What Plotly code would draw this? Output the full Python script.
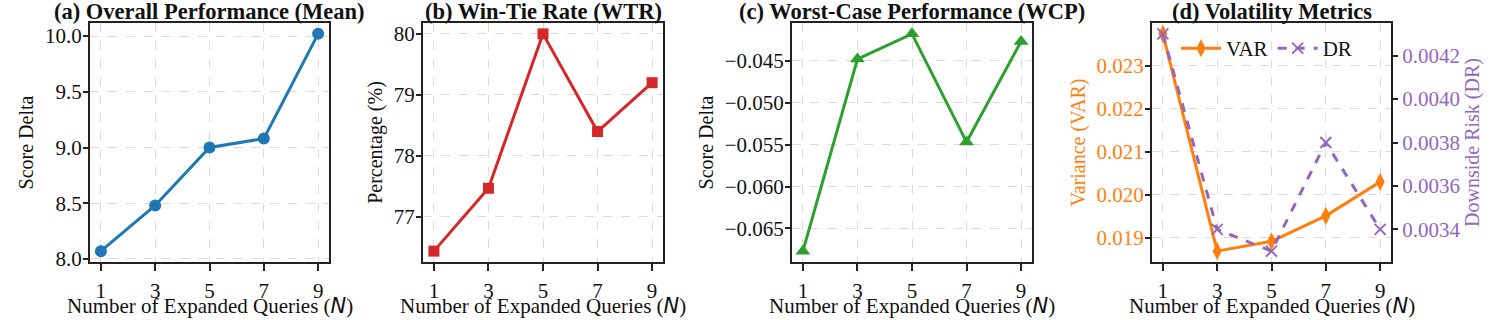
"""Expanded queries ablation: four panels (mean, WTR, WCP, volatility)."""

import plotly.graph_objects as go

# --- data -------------------------------------------------------------------
n_queries = [1, 3, 5, 7, 9]
mean_delta = [8.07, 8.48, 9.0, 9.08, 10.02]
win_tie_rate = [76.44, 77.47, 80.0, 78.4, 79.2]
worst_case = [-0.0677, -0.0448, -0.0418, -0.0547, -0.0427]
variance = [0.02374, 0.01869, 0.01892, 0.01951, 0.0203]
downside_risk = [0.0043, 0.0034, 0.0033, 0.0038, 0.0034]

panel_titles = [
    "(a) Overall Performance (Mean)",
    "(b) Win-Tie Rate (WTR)",
    "(c) Worst-Case Performance (WCP)",
    "(d) Volatility Metrics",
]

BLUE, RED, GREEN = "#1f77b4", "#d62728", "#2ca02c"
ORANGE, PURPLE = "#ff7f0e", "#9467bd"
FONT = "Liberation Serif, Times New Roman, serif"
INK = "#111111"
W, H = 1500, 320

# plot areas in pixels (left, right), shared top/bottom
panels_px = [(90, 329), (423, 663), (792, 1032), (1152, 1391)]
top_px, bottom_px = 23, 262

x_label = 'Number of Expanded Queries (<span style="font-family:DejaVu Sans"><i>N</i></span>)'


def padded(vals, frac=0.05):
    lo, hi = min(vals), max(vals)
    pad = (hi - lo) * frac
    return [lo - pad, hi + pad]


def ydom():
    return [1 - bottom_px / H, 1 - top_px / H]


def xdom(i):
    l, r = panels_px[i]
    return [l / W, r / W]


axis_common = dict(
    automargin=False,
    showline=True,
    linecolor="#222222",
    linewidth=2,
    mirror=True,
    ticks="outside",
    ticklen=5,
    tickwidth=1.5,
    tickcolor="#222222",
    showgrid=True,
    gridcolor="rgba(190,190,190,0.55)",
    griddash="dash",
    gridwidth=1,
    zeroline=False,
    tickfont=dict(family=FONT, size=21, color=INK),
)

fig = go.Figure()

fig.add_trace(go.Scatter(
    x=n_queries, y=mean_delta, mode="lines+markers", xaxis="x", yaxis="y",
    line=dict(color=BLUE, width=3), marker=dict(symbol="circle", size=12, color=BLUE),
    showlegend=False,
))
fig.add_trace(go.Scatter(
    x=n_queries, y=win_tie_rate, mode="lines+markers", xaxis="x2", yaxis="y2",
    line=dict(color=RED, width=3), marker=dict(symbol="square", size=11, color=RED),
    showlegend=False,
))
fig.add_trace(go.Scatter(
    x=n_queries, y=worst_case, mode="lines+markers", xaxis="x3", yaxis="y3",
    line=dict(color=GREEN, width=3), marker=dict(symbol="triangle-up", size=13, color=GREEN),
    showlegend=False,
))
fig.add_trace(go.Scatter(
    x=n_queries, y=variance, mode="lines+markers", xaxis="x4", yaxis="y4", name="VAR",
    line=dict(color=ORANGE, width=3), marker=dict(symbol="diamond-tall", size=13, color=ORANGE),
))
fig.add_trace(go.Scatter(
    x=n_queries, y=downside_risk, mode="lines+markers", xaxis="x4", yaxis="y5", name="DR",
    line=dict(color=PURPLE, width=3, dash="dash"),
    marker=dict(symbol="x-thin", size=11, color=PURPLE, line=dict(color=PURPLE, width=2)),
))

layout = dict(
    width=W, height=H,
    margin=dict(l=0, r=0, t=0, b=0),
    paper_bgcolor="white", plot_bgcolor="white",
    font=dict(family=FONT, size=21, color=INK),
    legend=dict(
        x=1176 / W, y=1 - 28 / H, xanchor="left", yanchor="top",
        orientation="h", bgcolor="rgba(0,0,0,0)",
        font=dict(family=FONT, size=21, color=INK),
        itemwidth=40, tracegroupgap=0,
    ),
)

y_titles = ["Score Delta", "Percentage (%)", "Score Delta", "Variance (VAR)"]
y_ranges = [padded(mean_delta), padded(win_tie_rate), padded(worst_case), padded(variance)]
y_dticks = [0.5, 1, 0.005, 0.001]
y_formats = [".1f", "d", ".3f", ".3f"]

for i in range(4):
    sfx = "" if i == 0 else str(i + 1)
    layout["xaxis" + sfx] = dict(
        axis_common, domain=xdom(i), anchor="y" + sfx,
        range=padded(n_queries), tickvals=n_queries,
        ticklen=7, tickangle=0, ticklabelstandoff=2,
    )
    yax = dict(
        axis_common, domain=ydom(), anchor="x" + sfx,
        range=y_ranges[i], dtick=y_dticks[i], tickformat=y_formats[i],
        ticklabelstandoff=-3,
        title=dict(text=y_titles[i], standoff=6, font=dict(family=FONT, size=20, color=INK)),
    )
    if i == 3:
        yax["tickfont"] = dict(family=FONT, size=21, color=ORANGE)
        yax["title"]["font"] = dict(family=FONT, size=20, color=ORANGE)
        yax["mirror"] = False
    layout["yaxis" + sfx] = yax

layout["yaxis5"] = dict(
    axis_common, overlaying="y4", side="right", anchor="x4",
    range=padded(downside_risk), dtick=0.0002, tickformat=".4f", showgrid=False,
    tickfont=dict(family=FONT, size=21, color=PURPLE),
    title=dict(text="Downside Risk (DR)", standoff=6, font=dict(family=FONT, size=20, color=PURPLE)),
)

# panel titles on top, x-axis labels underneath (placed as annotations)
annotations = []
for i, t in enumerate(panel_titles):
    l, r = panels_px[i]
    annotations.append(dict(
        text="<b>%s</b>" % t, x=(l + r) / 2 / W, y=1 - 11 / H,
        xref="paper", yref="paper", xanchor="center", yanchor="middle",
        showarrow=False, font=dict(family=FONT, size=22.5, color=INK),
    ))
    annotations.append(dict(
        text=x_label, x=(l + r) / 2 / W, y=1 - 306 / H,
        xref="paper", yref="paper", xanchor="center", yanchor="middle",
        showarrow=False, font=dict(family=FONT, size=21, color=INK),
    ))
layout["annotations"] = annotations

fig.update_layout(**layout)
# the page body has an 8px default margin; drop it so the figure fills the window
fig.write_html(
    "out.html",
    config={"displayModeBar": False},
    post_script="document.body.style.margin = '0';",
)
